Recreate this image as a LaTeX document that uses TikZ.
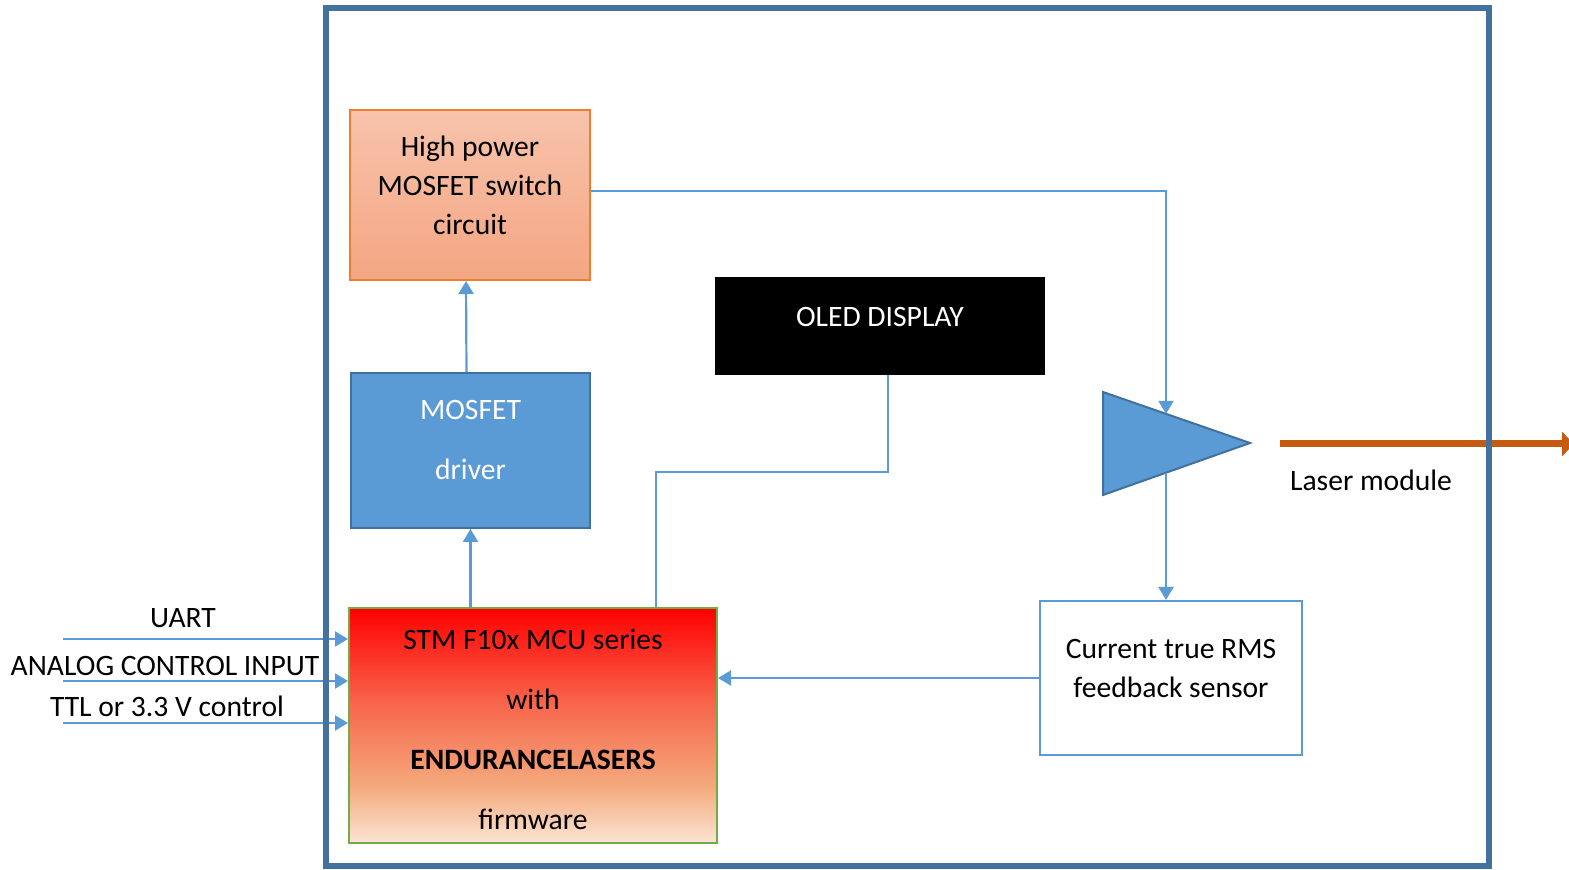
\documentclass[tikz,border=0pt]{standalone}
\usepackage{fontspec}
\setmainfont{Carlito}
\usetikzlibrary{arrows.meta,calc}

\definecolor{framec}{RGB}{68,114,160}
\definecolor{linec}{RGB}{91,155,213}
\definecolor{drvline}{RGB}{65,113,156}
\definecolor{hpline}{RGB}{237,125,49}
\definecolor{hptop}{RGB}{248,195,172}
\definecolor{hpbot}{RGB}{244,166,130}
\definecolor{mculine}{RGB}{112,173,71}
\definecolor{mcumid}{RGB}{248,100,75}
\definecolor{mcupeach}{RGB}{244,170,125}
\definecolor{mcubot}{RGB}{251,228,212}
\definecolor{laserc}{RGB}{197,90,17}

\pgfdeclareverticalshading{mcushade}{100bp}{color(0bp)=(mcubot); color(25bp)=(mcubot); color(37bp)=(mcupeach); color(55bp)=(mcumid); color(75bp)=(red); color(100bp)=(red)}

\tikzset{
  wire/.style={draw=linec, line width=1.1pt},
  blockbox/.style={draw, line width=1pt, inner sep=0pt},
  blocktext/.style={align=center, inner sep=0pt, font=\fontsize{14.8}{19.5}\selectfont},
  >={Triangle[length=6.5pt,width=7.5pt]}
}

\begin{document}
\begin{tikzpicture}[x=0.5pt,y=-0.5pt]
\useasboundingbox (0,0) rectangle (1569,870);

% blocks
\node[blockbox, draw=hpline, top color=hptop, bottom color=hpbot,
  minimum width=120pt, minimum height=85pt] (hp) at (470,195) {};
\node[blocktext] at (470,185) {High power\\MOSFET switch\\circuit};

\node[blockbox, draw=drvline, fill=linec,
  minimum width=119.5pt, minimum height=77.5pt] (drv) at (470.5,450.5) {};
\node[blocktext, white] at (470.5,440) {MOSFET\\[10.5pt]driver};

\node[blockbox, fill=black, minimum width=164pt, minimum height=48pt] (oled) at (880,326) {};
\node[blocktext, white] at (880,317) {OLED DISPLAY};

\node[blockbox, draw=mculine, shading=mcushade,
  minimum width=184pt, minimum height=117.5pt] (mcu) at (533,725.5) {};
\node[blocktext] at (533,729) {STM F10x MCU series\\[10.5pt]with\\[10.5pt]\textbf{ENDURANCELASERS}\\[10.5pt]firmware};

\node[blockbox, draw=linec, fill=white, minimum width=131pt, minimum height=77pt] (sensor) at (1171,678) {};
\node[blocktext] at (1171,668.5) {Current true RMS\\feedback sensor};

% amplifier
\coordinate (ampa) at (1103,392);
\coordinate (ampb) at (1103,495);
\coordinate (ampc) at (1250,443);
\draw[fill=linec, draw=drvline, line width=1pt] (ampa) -- (ampc) -- (ampb) -- cycle;
\coordinate (ampin) at ($(ampa)!0.4286!(ampc)$);
\coordinate (ampout) at ($(ampb)!0.4286!(ampc)$);

% laser output
\coordinate (laserin) at (1280,444);
\coordinate (laserout) at (1574,444);
\draw[laserc, line width=3.5pt, -{Triangle[length=6pt,width=12pt]}] (laserin) -- (laserout);
\node[blocktext] at (1371,480) {Laser module};

% connectors
\draw[wire,->] ([yshift=2pt]hp.east) -| (ampin);
\draw[wire,->] (ampout) -- (ampout |- sensor.north);
\draw[wire,->] (sensor.west) -- (sensor.west -| mcu.east);
\draw[wire,->] (drv.south |- mcu.north) -- (drv.south);
\draw[wire,->] ([xshift=-2pt]drv.north) -- ([xshift=-2pt]hp.south);
\coordinate (oledbend) at (656,472);
\draw[wire] ([xshift=4pt]oled.south) |- (oledbend) -- (oledbend |- mcu.north);

% inputs
\coordinate (uartin) at (63,639);
\coordinate (analogin) at (63,681);
\coordinate (ttlin) at (63,723);
\draw[wire,->] (uartin) -- (uartin -| mcu.west);
\draw[wire,->] (analogin) -- (analogin -| mcu.west);
\draw[wire,->] (ttlin) -- (ttlin -| mcu.west);
\node[blocktext] at (183,618) {UART};
\node[blocktext] at (165,666) {ANALOG CONTROL INPUT};
\node[blocktext] at (167,706) {TTL or 3.3 V control};

% frame
\draw[framec, line width=3pt] (326,8) rectangle (1489,866);

\end{tikzpicture}
\end{document}
